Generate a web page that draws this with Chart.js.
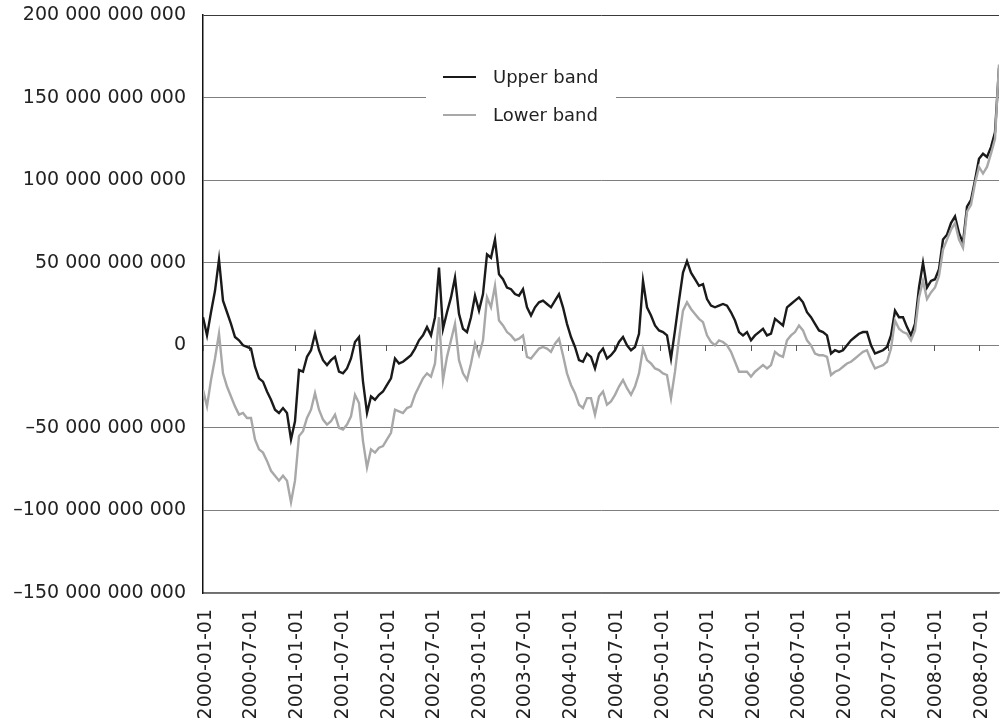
<!DOCTYPE html>
<html lang="en">
<head>
<meta charset="UTF-8">
<title>Upper and lower band</title>
<script src="https://cdn.jsdelivr.net/npm/chart.js"></script>
<style>
  html, body { margin: 0; padding: 0; background: #fff; }
  #wrap { position: relative; width: 1001px; height: 723px; }
</style>
</head>
<body>
<div id="wrap"><canvas id="bands" width="1001" height="723"></canvas></div>
<script>
// values in billions, one reading every 16 days from startDate
const startDate = '2000-01-01';
const stepDays = 16;
const seriesNames = ['Upper band', 'Lower band'];
const seriesColors = ['#1a1a1a', '#a8a8a8'];

const upperBand = [
  17, 6, 20, 33, 52, 27, 20, 13, 5, 3,
  0, -1, -2, -13, -20, -22, -28, -33, -39, -41,
  -38, -41, -57, -46, -15, -16, -7, -3, 7, -3,
  -9, -12, -9, -7, -16, -17, -14, -8, 2, 5,
  -22, -41, -31, -33, -30, -28, -24, -20, -8, -11,
  -10, -8, -6, -2, 3, 6, 11, 6, 17, 47,
  10, 20, 29, 41, 19, 10, 8, 17, 30, 21,
  31, 55, 53, 64, 43, 40, 35, 34, 31, 30,
  34, 23, 18, 23, 26, 27, 25, 23, 27, 31,
  23, 13, 5, -1, -9, -10, -5, -7, -14, -5,
  -2, -8, -6, -3, 2, 5, 0, -3, -1, 7,
  39, 23, 18, 12, 9, 8, 6, -8, 9, 27,
  44, 51, 44, 40, 36, 37, 28, 24, 23, 24,
  25, 24, 20, 15, 8, 6, 8, 3, 6, 8,
  10, 6, 7, 16, 14, 12, 23, 25, 27, 29,
  26, 20, 17, 13, 9, 8, 6, -5, -3, -4,
  -3, 0, 3, 5, 7, 8, 8, 0, -5, -4,
  -3, -1, 6, 21, 17, 17, 11, 6, 13, 35,
  50, 35, 39, 40, 46, 64, 67, 74, 78, 68,
  62, 84, 88, 100, 113, 116, 114, 120, 129, 168
];

const lowerBand = [
  -27, -37, -21, -8, 7, -17, -25, -31, -37, -42,
  -41, -44, -44, -57, -63, -65, -70, -76, -79, -82,
  -79, -82, -95, -82, -55, -52, -44, -39, -29, -39,
  -45, -48, -46, -42, -50, -51, -48, -43, -30, -35,
  -58, -74, -63, -65, -62, -61, -57, -53, -39, -40,
  -41, -38, -37, -30, -25, -20, -17, -19, -11, 17,
  -21, -7, 3, 13, -9, -17, -21, -11, 1, -6,
  3, 29, 23, 36, 15, 12, 8, 6, 3, 4,
  6, -7, -8, -5, -2, -1, -2, -4, 1, 4,
  -6, -17, -24, -29, -36, -38, -32, -32, -42, -31,
  -28, -36, -34, -30, -25, -21, -26, -30, -25, -17,
  -2, -9, -11, -14, -15, -17, -18, -32, -16, 4,
  21, 26, 22, 19, 16, 14, 6, 2, 0, 3,
  2, 0, -4, -10, -16, -16, -16, -19, -16, -14,
  -12, -14, -12, -4, -6, -7, 3, 6, 8, 12,
  9, 3, 0, -5, -6, -6, -7, -18, -16, -15,
  -13, -11, -10, -8, -6, -4, -3, -9, -14, -13,
  -12, -10, -2, 15, 10, 8, 7, 3, 9, 29,
  39, 28, 32, 35, 42, 58, 64, 70, 74, 64,
  59, 81, 85, 98, 108, 104, 108, 116, 125, 170
];

const xTickLabels = [
  '2000-01-01', '2000-07-01', '2001-01-01', '2001-07-01', '2002-01-01', '2002-07-01',
  '2003-01-01', '2003-07-01', '2004-01-01', '2004-07-01', '2005-01-01', '2005-07-01',
  '2006-01-01', '2006-07-01', '2007-01-01', '2007-07-01', '2008-01-01', '2008-07-01'
];
const yTickValues = [-150, -100, -50, 0, 50, 100, 150, 200];
const yTickLabels = [
  '\u2013150 000 000 000', '\u2013100 000 000 000', '\u201350 000 000 000', '0',
  '50 000 000 000', '100 000 000 000', '150 000 000 000', '200 000 000 000'
];

const dayMs = 86400000;
function dayOf(s) {
    return Math.round((Date.parse(s + 'T00:00:00Z') - Date.parse(startDate + 'T00:00:00Z')) / dayMs);
}
function toPoints(values) {
    return values.map((v, i) => ({ x: i * stepDays, y: v }));
}

const tickFont = { family: 'DejaVu Sans', size: 19 };

// small tick marks hanging off the zero line
const zeroLineTicks = {
    id: 'zeroLineTicks',
    beforeDatasetsDraw(chart) {
        const { ctx, scales: { x, y } } = chart;
        const y0 = Math.round(y.getPixelForValue(0));
        ctx.save();
        ctx.strokeStyle = '#555';
        ctx.lineWidth = 1;
        x.ticks.forEach(t => {
            const px = Math.round(x.getPixelForValue(t.value)) + 0.5;
            ctx.beginPath();
            ctx.moveTo(px, y0);
            ctx.lineTo(px, y0 + 6);
            ctx.stroke();
        });
        ctx.restore();
    }
};

// legend box sitting on top of the 150 bn gridline
const bandLegend = {
    id: 'bandLegend',
    afterDraw(chart) {
        const ctx = chart.ctx;
        const left = chart.chartArea.left + 223;
        const top = chart.chartArea.top + 43;
        ctx.save();
        ctx.fillStyle = '#fff';
        ctx.fillRect(left, top, 190, 76);
        chart.data.datasets.forEach((ds, i) => {
            const y = top + 19 + i * 38;
            ctx.strokeStyle = ds.borderColor;
            ctx.lineWidth = 2;
            ctx.beginPath();
            ctx.moveTo(left + 17, y);
            ctx.lineTo(left + 50, y);
            ctx.stroke();
            ctx.fillStyle = '#222';
            ctx.font = '18px "DejaVu Sans"';
            ctx.textBaseline = 'middle';
            ctx.fillText(ds.label, left + 67, y + 1);
        });
        ctx.restore();
    }
};

new Chart(document.getElementById('bands').getContext('2d'), {
    type: 'line',
    data: {
        datasets: [
            { label: seriesNames[0], data: toPoints(upperBand), borderColor: seriesColors[0], borderWidth: 2.4, pointRadius: 0, tension: 0, order: 2 },
            { label: seriesNames[1], data: toPoints(lowerBand), borderColor: seriesColors[1], borderWidth: 2.4, pointRadius: 0, tension: 0, order: 1 }
        ]
    },
    options: {
        responsive: false,
        animation: false,
        devicePixelRatio: 1,
        layout: { padding: { top: 15, right: 2, left: 0, bottom: 0 } },
        plugins: { legend: { display: false }, tooltip: { enabled: false } },
        scales: {
            x: {
                type: 'linear',
                min: 0,
                max: (upperBand.length - 1) * stepDays,
                afterBuildTicks: s => { s.ticks = xTickLabels.map(d => ({ value: dayOf(d) })); },
                afterFit: s => { s.height = 130; s.paddingLeft = 0; s.paddingRight = 0; },
                grid: { display: false, drawTicks: false },
                border: { display: true, color: '#6e6e6e', width: 1.5 },
                ticks: {
                    autoSkip: false, minRotation: 90, maxRotation: 90, padding: 16, labelOffset: 3,
                    color: '#222', font: tickFont,
                    callback: (v, i) => xTickLabels[i]
                }
            },
            y: {
                min: -150,
                max: 200,
                afterBuildTicks: s => { s.ticks = yTickValues.map(v => ({ value: v })); },
                afterFit: s => { s.width = 203; s.paddingTop = 0; s.paddingBottom = 0; },
                grid: {
                    drawTicks: false,
                    color: c => c.tick && c.tick.value === 200 ? '#3a3a3a' : '#7f7f7f',
                    lineWidth: 1
                },
                border: { display: true, color: '#111', width: 1.5 },
                ticks: {
                    padding: 17, color: '#222', font: tickFont,
                    callback: (v, i) => yTickLabels[i]
                }
            }
        }
    },
    plugins: [zeroLineTicks, bandLegend]
});
</script>
</body>
</html>
